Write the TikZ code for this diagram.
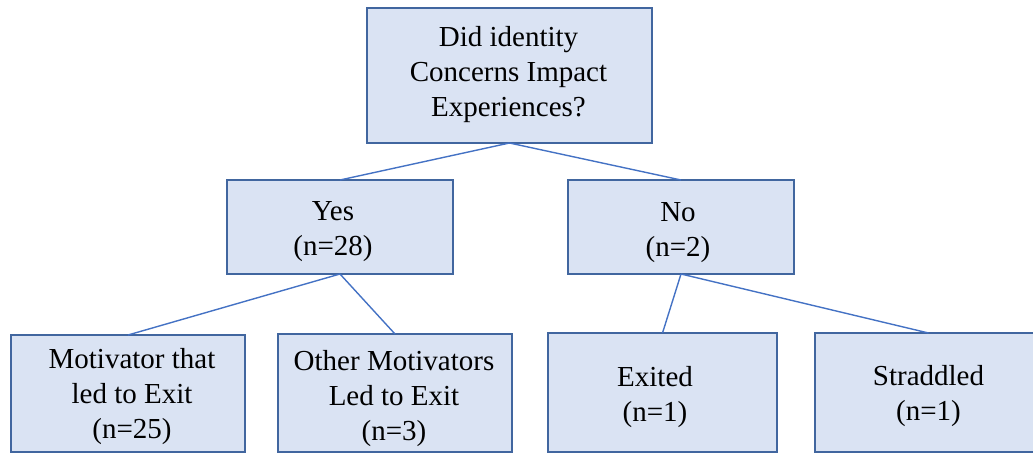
\documentclass[tikz,border=0pt]{standalone}
\usepackage{fontspec}
\setmainfont{Liberation Serif}
\definecolor{boxfill}{HTML}{DAE3F3}
\definecolor{boxline}{HTML}{41669F}
\definecolor{linkline}{HTML}{4472C4}
\begin{document}
\begin{tikzpicture}[x=1pt,y=-1pt,
  box/.style={draw=boxline, fill=boxfill, line width=1.6pt, rectangle,
    inner sep=0pt, outer sep=0pt},
  txt/.style={align=center, inner sep=0pt,
    font=\fontsize{29}{35}\selectfont},
  link/.style={draw=linkline, line width=1.4pt}]
\useasboundingbox (0,0) rectangle (1033,454);
\clip (0,0) rectangle (1033,454);

% question at the root
\node[box, minimum width=285pt, minimum height=135pt] (root) at (509.5,75.5) {};
\node[txt] (rootT) at (508.5,75) {Did identity\\Concerns Impact\\Experiences?};

% first-level answers
\node[box, minimum width=226pt, minimum height=94pt] (yes) at (340,227) {};
\node[txt] (yesT) at (333,232) {Yes\\(n=28)};
\node[box, minimum width=226pt, minimum height=94pt] (no) at (681,227) {};
\node[txt] (noT) at (678,233) {No\\(n=2)};

% outcomes
\node[box, minimum width=234pt, minimum height=117pt] (motiv) at (128,393.5) {};
\node[txt] (motivT) at (132,397) {Motivator that\\led to Exit\\(n=25)};
\node[box, minimum width=234pt, minimum height=118pt] (other) at (395,393) {};
\node[txt] (otherT) at (394,399) {Other Motivators\\Led to Exit\\(n=3)};
\node[box, minimum width=229pt, minimum height=119pt] (exited) at (662.5,392.5) {};
\node[txt] (exitedT) at (655,397) {Exited\\(n=1)};
\node[box, minimum width=227pt, minimum height=119pt] (strad) at (928.5,392.5) {};
\node[txt] (stradT) at (928.5,396.5) {Straddled\\(n=1)};

% tree connectors
\draw[link] (root.south) -- (yes.north);
\draw[link] (root.south) -- (no.north);
\draw[link] (yes.south) -- (motiv.north);
\draw[link] (yes.south) -- (other.north);
\draw[link] (no.south) -- (exited.north);
\draw[link] (no.south) -- (strad.north);
\end{tikzpicture}
\end{document}
